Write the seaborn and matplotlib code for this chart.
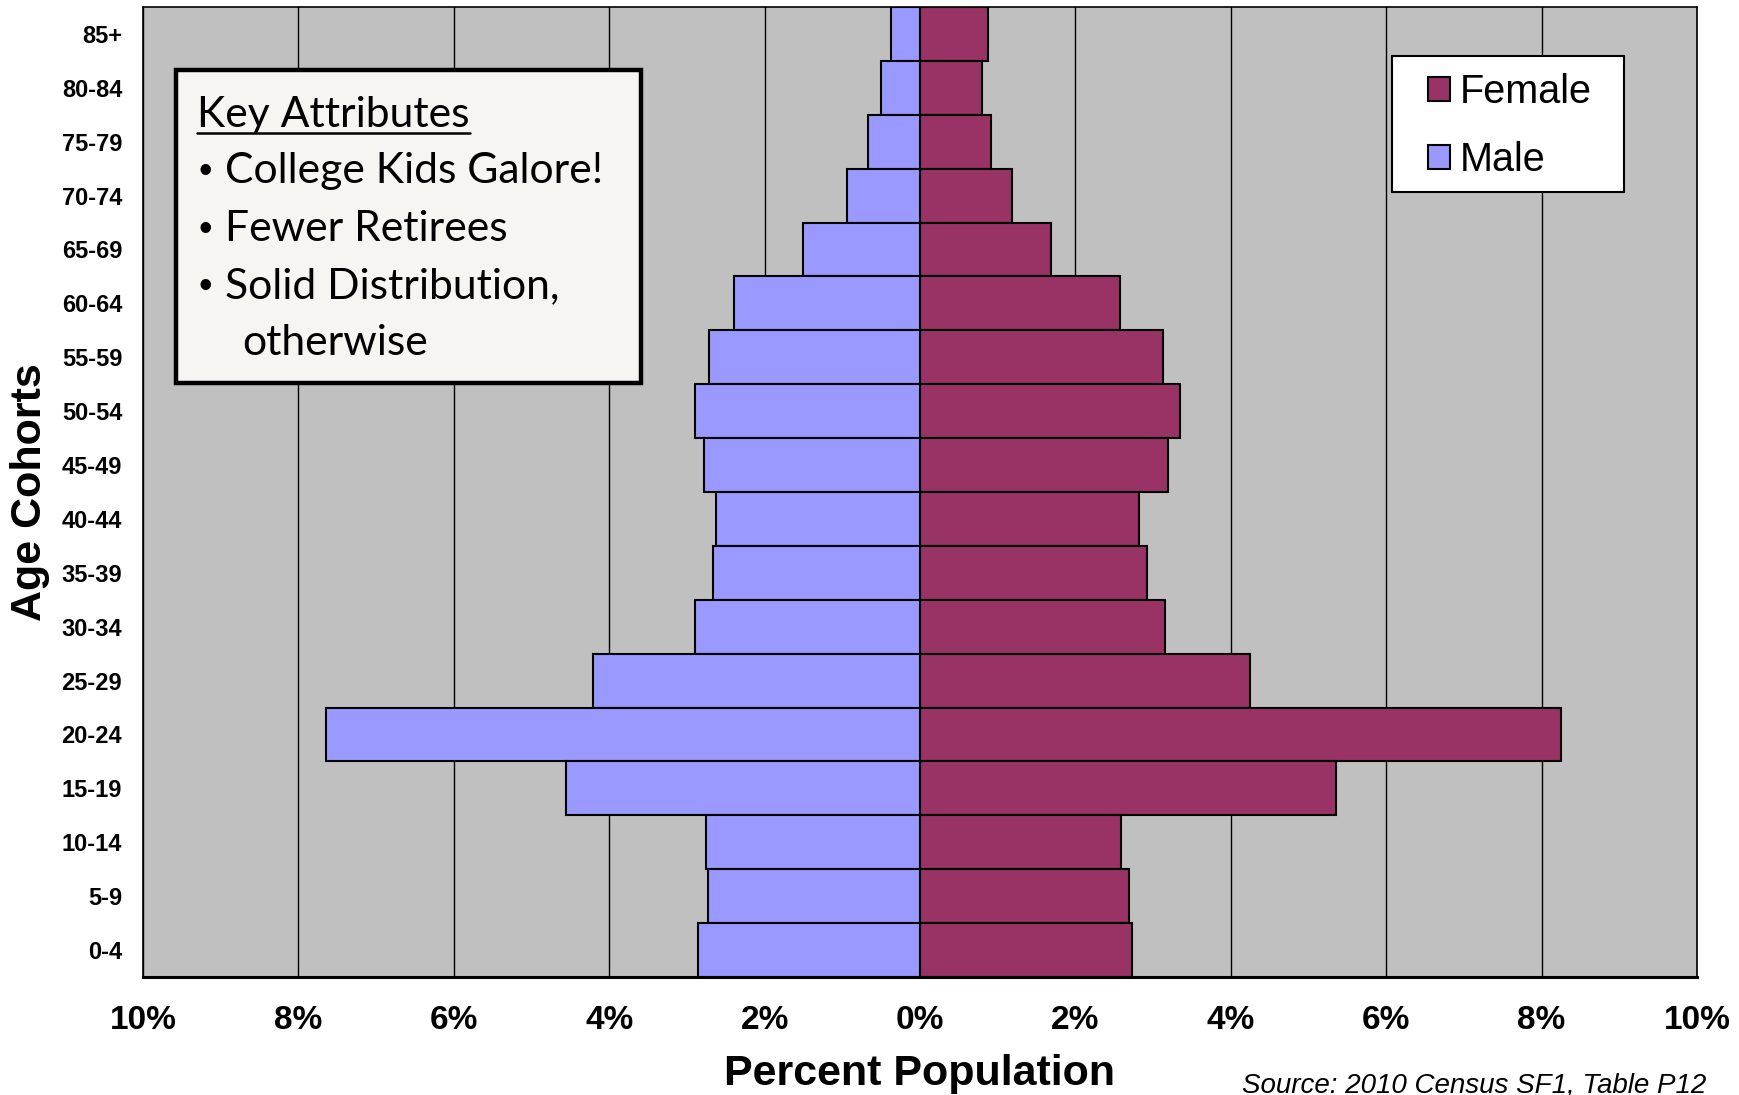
import pandas as pd
import seaborn as sns
import matplotlib.pyplot as plt
from matplotlib.patches import Patch, Rectangle
from matplotlib.lines import Line2D

# age cohorts, bottom to top
ages = ["0-4", "5-9", "10-14", "15-19", "20-24", "25-29", "30-34", "35-39", "40-44",
        "45-49", "50-54", "55-59", "60-64", "65-69", "70-74", "75-79", "80-84", "85+"]
male = [2.86, 2.73, 2.75, 4.55, 7.64, 4.21, 2.90, 2.66, 2.63,
        2.78, 2.89, 2.72, 2.39, 1.50, 0.94, 0.67, 0.50, 0.37]
female = [2.73, 2.69, 2.59, 5.35, 8.25, 4.25, 3.15, 2.92, 2.82,
          3.19, 3.35, 3.13, 2.58, 1.69, 1.19, 0.92, 0.80, 0.87]
ticks = list(range(-10, 11, 2))
key_lines = ["College Kids Galore!", "Fewer Retirees", "Solid Distribution,", "otherwise"]
key_bullet = [True, True, True, False]

colors = {"Female": "#993366", "Male": "#9999FF"}

sns.set_theme(style="whitegrid", rc={"axes.facecolor": "#C0C0C0",
                                     "axes.edgecolor": "black",
                                     "grid.color": "black",
                                     "grid.linewidth": 1.0,
                                     "text.color": "black",
                                     "axes.labelcolor": "black",
                                     "xtick.color": "black",
                                     "ytick.color": "black"})
plt.rcParams['font.family'] = ['Liberation Sans', 'DejaVu Sans']

df = pd.DataFrame({
    "Age": ages + ages,
    "Sex": ["Male"] * len(ages) + ["Female"] * len(ages),
    "Percent": [-m for m in male] + female,
})

fig, ax = plt.subplots(figsize=(17.4, 10.95), dpi=100)
fig.subplots_adjust(left=143 / 1740, right=1697 / 1740, top=1 - 7 / 1095, bottom=1 - 977 / 1095)

sns.barplot(data=df, x="Percent", y="Age", hue="Sex", order=ages[::-1],
            hue_order=["Female", "Male"], palette=colors, saturation=1, dodge=False,
            width=1.0, orient="h", edgecolor="black", linewidth=1.5, legend=False, ax=ax)

ax.set_xlim(-10, 10)
ax.set_xticks(ticks)
ax.set_xticklabels([f"{abs(t)}%" for t in ticks], fontsize=24, fontweight="bold")
for lab in ax.get_yticklabels():
    lab.set_fontsize(17)
    lab.set_fontweight("bold")
ax.tick_params(axis="x", length=0, pad=20)
ax.tick_params(axis="y", length=0, pad=15)
ax.xaxis.grid(True, color="black", linewidth=1.0)
ax.yaxis.grid(False)
ax.set_axisbelow(True)
for side in ["left", "right", "top"]:
    ax.spines[side].set_linewidth(1.2)
ax.spines["bottom"].set_linewidth(2.2)

ax.set_xlabel("Percent Population", fontsize=31, fontweight="bold")
ax.set_ylabel("Age Cohorts", fontsize=31, fontweight="bold")
ax.xaxis.set_label_coords(0.5, -0.1)
ax.xaxis.label.set_verticalalignment("center")
ax.yaxis.set_label_coords(-0.0727, 0.5)
ax.yaxis.label.set_verticalalignment("center")

fig.text(1706 / 1740, 1 - 1085 / 1095, "Source: 2010 Census SF1, Table P12",
         ha="right", va="center", fontsize=20, style="italic")

# legend (frame drawn separately)
ax.add_patch(Rectangle((0.8037, 0.8093), 0.1493, 0.1402, transform=ax.transAxes,
                       facecolor="white", edgecolor="black", linewidth=1.5, zorder=5))
handles = [Patch(facecolor=colors["Female"], edgecolor="black", linewidth=1.5, label="Female"),
           Patch(facecolor=colors["Male"], edgecolor="black", linewidth=1.5, label="Male")]
leg = ax.legend(handles=handles, loc="upper left", bbox_to_anchor=(0.8269, 0.9316),
                fontsize=28.5, frameon=False, handlelength=0.55, handleheight=0.55,
                handletextpad=0.25, labelspacing=0.74, borderpad=0, borderaxespad=0)
leg.set_zorder(6)

# key attributes box
ax.add_patch(Rectangle((0.0212, 0.6124), 0.2993, 0.3226, transform=ax.transAxes,
                       facecolor="#F6F5F2", edgecolor="black", linewidth=3.2, zorder=5))
title = ax.text(0.035, 0.876, "Key Attributes", transform=ax.transAxes,
                fontsize=30.7, family="Lato", va="baseline", zorder=6)
ys = [0.8186, 0.7588, 0.70, 0.6412]
for y, line, bul in zip(ys, key_lines, key_bullet):
    if bul:
        ax.text(0.0355, y, "\u2022", transform=ax.transAxes, fontsize=28,
                family="Liberation Sans", va="baseline", zorder=6)
        ax.text(0.0528, y, line, transform=ax.transAxes, fontsize=30.7, family="Lato",
                va="baseline", zorder=6)
    else:
        ax.text(0.0637, y, line, transform=ax.transAxes, fontsize=30.7, family="Lato",
                va="baseline", zorder=6)

fig.canvas.draw()
bb = title.get_window_extent().transformed(ax.transAxes.inverted())
ax.add_line(Line2D([bb.x0, bb.x1], [0.876 - 0.0055, 0.876 - 0.0055], transform=ax.transAxes,
                   color="black", linewidth=1.8, zorder=6))

fig.savefig("out.png", dpi=100)
